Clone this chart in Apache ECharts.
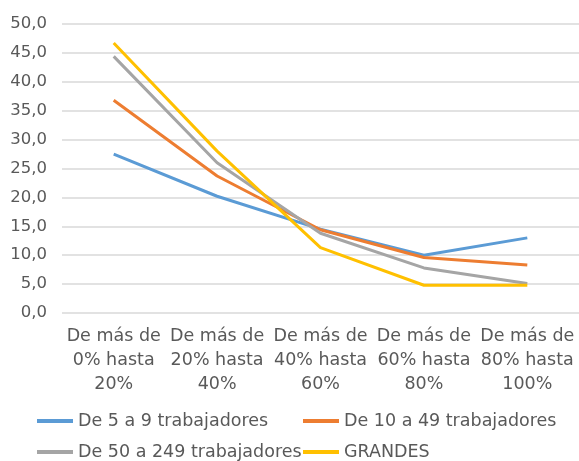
<!DOCTYPE html>
<html>
<head>
<meta charset="utf-8">
<script src="https://cdn.jsdelivr.net/npm/echarts@6/dist/echarts.min.js"></script>
<style>
html,body{margin:0;padding:0;background:#fff;}
#chart{width:579px;height:461px;}
</style>
</head>
<body>
<div id="chart"></div>
<script>
var categories = [
  'De más de\n0% hasta\n20%',
  'De más de\n20% hasta\n40%',
  'De más de\n40% hasta\n60%',
  'De más de\n60% hasta\n80%',
  'De más de\n80% hasta\n100%'
];
var seriesNames = ['De 5 a 9 trabajadores', 'De 10 a 49 trabajadores', 'De 50 a 249 trabajadores', 'GRANDES'];
var de5a9 = [27.5, 20.2, 14.5, 10.0, 13.0];
var de10a49 = [36.8, 23.7, 14.4, 9.6, 8.3];
var de50a249 = [44.4, 26.0, 13.8, 7.8, 5.1];
var grandes = [46.7, 28.0, 11.3, 4.8, 4.8];
var yTicks = [0, 5, 10, 15, 20, 25, 30, 35, 40, 45, 50];

var colors = ['#5B9BD5', '#ED7D31', '#A5A5A5', '#FFC000'];
var values = [de5a9, de10a49, de50a249, grandes];
var font = 'DejaVu Sans';
var textColor = '#595959';

var legendPos = [
  {left: 37, top: 411},
  {left: 303, top: 411},
  {left: 37, top: 442},
  {left: 303, top: 442}
];

var chart = echarts.init(document.getElementById('chart'));
chart.setOption({
  animation: false,
  color: colors,
  grid: {left: 62, right: -3, top: 24, bottom: 148, containLabel: false},
  legend: seriesNames.map(function (n, i) {
    return {
      data: [n],
      left: legendPos[i].left,
      top: legendPos[i].top,
      icon: 'rect',
      itemWidth: 36,
      itemHeight: 4,
      padding: 0,
      textStyle: {fontFamily: font, fontSize: 17.5, color: textColor, lineHeight: 20}
    };
  }),
  xAxis: {
    type: 'category',
    data: categories,
    boundaryGap: true,
    axisLine: {show: false},
    axisTick: {show: false},
    axisLabel: {
      interval: 0,
      fontFamily: font,
      fontSize: 17.5,
      lineHeight: 24,
      margin: 11,
      color: textColor,
      align: 'center'
    }
  },
  yAxis: {
    type: 'value',
    min: yTicks[0],
    max: yTicks[yTicks.length - 1],
    interval: yTicks[1] - yTicks[0],
    axisLine: {show: false},
    axisTick: {show: false},
    splitLine: {lineStyle: {color: '#d9d9d9', width: 1.5}},
    axisLabel: {
      fontFamily: font,
      fontSize: 16.5,
      color: textColor,
      margin: 15,
      formatter: function (v) { return v.toFixed(1).replace('.', ','); }
    }
  },
  series: seriesNames.map(function (n, i) {
    return {
      name: n,
      type: 'line',
      data: values[i],
      symbol: 'none',
      smooth: false,
      lineStyle: {width: 3, color: colors[i]},
      itemStyle: {color: colors[i]}
    };
  })
});
</script>
</body>
</html>
